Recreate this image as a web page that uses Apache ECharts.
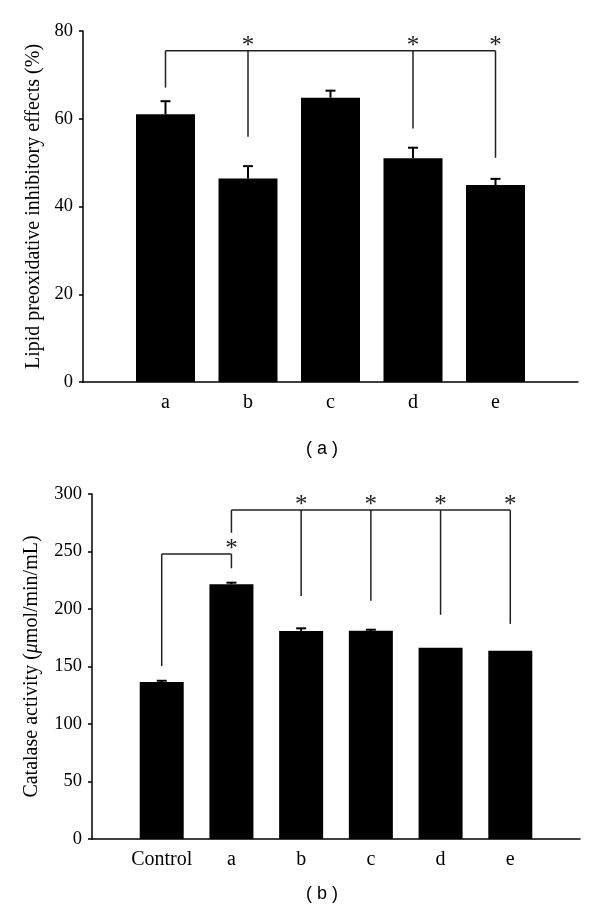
<!DOCTYPE html>
<html>
<head>
<meta charset="utf-8">
<script src="https://cdn.jsdelivr.net/npm/echarts@6/dist/echarts.min.js"></script>
<style>html,body{margin:0;padding:0;background:#fff}#c{width:600px;height:919px}</style>
</head>
<body>
<div id="c"></div>
<script>
// ---- Panel (a) data ----
const topCats = ['a', 'b', 'c', 'd', 'e'];
const topValues = [61.0, 46.4, 64.8, 51.0, 44.9];
const topErrors = [3.0, 2.8, 1.6, 2.4, 1.4];
const topYTicks = [0, 20, 40, 60, 80];
// significance bracket: reference category, its drop level, compared categories and their drop levels
const topBracketLevel = 75.5;
const topBracketRef = ['a', 67.1];
const topBracketTargets = [['b', 55.9], ['d', 57.8], ['e', 51.1]];

// ---- Panel (b) data ----
const botCats = ['Control', 'a', 'b', 'c', 'd', 'e'];
const botValues = [136.5, 221.5, 180.9, 181.0, 166.4, 163.8];
const botErrors = [1.1, 1.4, 2.3, 1.0, 0, 0];
const botYTicks = [0, 50, 100, 150, 200, 250, 300];
const botBracket1Level = 247.8;
const botBracket1Ref = ['Control', 150.4];
const botBracket1Targets = [['a', 235.4]];
const botBracket2Level = 286.0;
const botBracket2Ref = ['a', 266.3];
const botBracket2Targets = [['b', 211.3], ['c', 207.2], ['d', 195.0], ['e', 187.0]];

const SERIF = 'Liberation Serif, DejaVu Serif, serif';
const SANS = 'Liberation Sans, Arial, sans-serif';

// top: categories at positions 1..5 (axis 0..6); bottom: positions 0..5 (axis -1..6)
const topPos = c => topCats.indexOf(c) + 1;
const botPos = c => botCats.indexOf(c);

function bracketSegments(level, ref, targets, pos) {
  const segs = [];
  const xs = [pos(ref[0])].concat(targets.map(t => pos(t[0])));
  segs.push([pos(ref[0]), ref[1], pos(ref[0]), level]);
  segs.push([Math.min(...xs), level, Math.max(...xs), level]);
  targets.forEach(t => segs.push([pos(t[0]), level, pos(t[0]), t[1]]));
  return segs;
}
function stars(level, targets, pos) {
  return targets.map(t => [pos(t[0]), level]);
}

const topSegs = bracketSegments(topBracketLevel, topBracketRef, topBracketTargets, topPos);
const topStars = stars(topBracketLevel, topBracketTargets, topPos);
const botSegs = bracketSegments(botBracket1Level, botBracket1Ref, botBracket1Targets, botPos)
  .concat(bracketSegments(botBracket2Level, botBracket2Ref, botBracket2Targets, botPos));
const botStars = stars(botBracket1Level, botBracket1Targets, botPos)
  .concat(stars(botBracket2Level, botBracket2Targets, botPos));

function errRender(params, api) {
  const x = api.value(0), v = api.value(1), e = api.value(2);
  if (!e) return null;
  const p0 = api.coord([x, v]);
  const p1 = api.coord([x, v + e]);
  const style = { stroke: '#000', lineWidth: 2 };
  return { type: 'group', children: [
    { type: 'line', shape: { x1: p0[0], y1: p0[1], x2: p1[0], y2: p1[1] }, style },
    { type: 'line', shape: { x1: p1[0] - 5, y1: p1[1], x2: p1[0] + 5, y2: p1[1] }, style }
  ]};
}
function segRender(params, api) {
  const a = api.coord([api.value(0), api.value(1)]);
  const b = api.coord([api.value(2), api.value(3)]);
  return { type: 'line', shape: { x1: a[0], y1: a[1], x2: b[0], y2: b[1] },
    style: { stroke: '#222', lineWidth: 1.5 } };
}
function starRender(params, api) {
  const p = api.coord([api.value(0), api.value(1)]);
  return { type: 'text', x: p[0], y: p[1] + 8,
    style: { text: '*', fill: '#222', font: '25px ' + SERIF, align: 'center', verticalAlign: 'bottom' } };
}

function yAxis(gridIndex, max, interval, name) {
  return {
    gridIndex, type: 'value', min: 0, max, interval,
    name, nameLocation: 'middle', nameRotate: 90,
    nameTextStyle: { fontFamily: SERIF, fontSize: 20, color: '#000', rich: {
      i: { fontFamily: SERIF, fontSize: 20, fontStyle: 'italic', color: '#000' } } },
    axisLine: { show: true, onZero: false, lineStyle: { color: '#000', width: 1.5 } },
    axisTick: { show: true, length: 4, lineStyle: { color: '#000', width: 1.5 } },
    axisLabel: { fontFamily: SERIF, fontSize: 18.5, color: '#000', margin: 10 },
    splitLine: { show: false }
  };
}
function xAxis(gridIndex, min, max, labelFn) {
  return {
    gridIndex, type: 'value', min, max, interval: 1,
    axisLine: { show: true, onZero: false, lineStyle: { color: '#000', width: 1.5 } },
    axisTick: { show: false },
    axisLabel: { fontFamily: SERIF, fontSize: 20, color: '#000', margin: 11, formatter: labelFn,
      showMinLabel: true, showMaxLabel: true },
    splitLine: { show: false }
  };
}

const chart = echarts.init(document.getElementById('c'), null, { renderer: 'canvas' });
chart.setOption({
  backgroundColor: '#fff',
  animation: false,
  grid: [
    { left: 83, right: 22, top: 31, height: 351 },
    { left: 92, right: 20, top: 494, height: 345 }
  ],
  xAxis: [
    xAxis(0, 0, 6, v => { const i = Math.round(v) - 1; return topCats[i] || ''; }),
    xAxis(1, -1, 6, v => { const i = Math.round(v); return botCats[i] || ''; })
  ],
  yAxis: [
    Object.assign(yAxis(0, topYTicks[topYTicks.length - 1], topYTicks[1] - topYTicks[0],
      'Lipid preoxidative inhibitory effects (%)'), { nameGap: 39 }),
    Object.assign(yAxis(1, botYTicks[botYTicks.length - 1], botYTicks[1] - botYTicks[0],
      'Catalase activity ({i|μ}mol/min/mL)'), { nameGap: 50 })
  ],
  series: [
    { type: 'bar', xAxisIndex: 0, yAxisIndex: 0, barWidth: 59,
      itemStyle: { color: '#000' },
      data: topValues.map((v, i) => [topPos(topCats[i]), v]) },
    { type: 'custom', xAxisIndex: 0, yAxisIndex: 0, renderItem: errRender, z: 5,
      data: topValues.map((v, i) => [topPos(topCats[i]), v, topErrors[i]]) },
    { type: 'custom', xAxisIndex: 0, yAxisIndex: 0, renderItem: segRender, z: 5,
      encode: { x: [0, 2], y: [1, 3] }, data: topSegs },
    { type: 'custom', xAxisIndex: 0, yAxisIndex: 0, renderItem: starRender, z: 5,
      data: topStars },

    { type: 'bar', xAxisIndex: 1, yAxisIndex: 1, barWidth: 44,
      itemStyle: { color: '#000' },
      data: botValues.map((v, i) => [botPos(botCats[i]), v]) },
    { type: 'custom', xAxisIndex: 1, yAxisIndex: 1, renderItem: errRender, z: 5,
      data: botValues.map((v, i) => [botPos(botCats[i]), v, botErrors[i]]) },
    { type: 'custom', xAxisIndex: 1, yAxisIndex: 1, renderItem: segRender, z: 5,
      encode: { x: [0, 2], y: [1, 3] }, data: botSegs },
    { type: 'custom', xAxisIndex: 1, yAxisIndex: 1, renderItem: starRender, z: 5,
      data: botStars }
  ],
  graphic: [
    { type: 'text', top: 440, left: 306, style: { text: '( a )', font: '18px ' + SANS, fill: '#000' } },
    { type: 'text', top: 885, left: 306, style: { text: '( b )', font: '18px ' + SANS, fill: '#000' } }
  ]
});
</script>
</body>
</html>
